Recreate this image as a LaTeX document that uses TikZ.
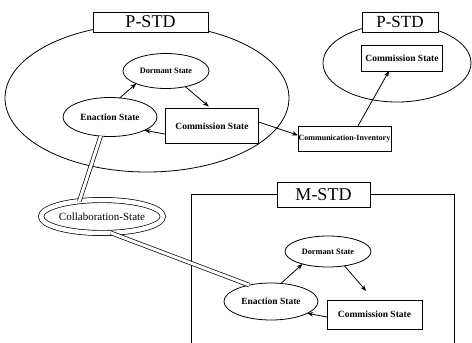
\documentclass[tikz,border=0pt]{standalone}
\usepackage{fontspec}
\setmainfont{Liberation Serif}
\usetikzlibrary{shapes.geometric,arrows.meta}
\begin{document}
\begin{tikzpicture}[x=1pt,y=-1pt,
  every node/.style={inner sep=0pt, outer sep=0pt},
  ln/.style={line width=0.8pt},
  st/.style={ellipse, draw, ln, font=\fontsize{9.5}{10}\selectfont\bfseries},
  bx/.style={rectangle, draw, ln, font=\fontsize{9.5}{10}\selectfont\bfseries},
  lbl/.style={rectangle, draw, ln, fill=white, font=\fontsize{18}{20}\selectfont},
  big/.style={draw, ln},
  arr/.style={ln, -{Stealth[length=6pt,width=4.5pt]}},
  dbl/.style={double, double distance=3pt, line width=0.7pt}
]
\useasboundingbox (0,0) rectangle (472,343);
% containers
\node[ellipse, big, minimum width=284pt, minimum height=148pt] (pe1) at (147,98) {};
\node[ellipse, big, minimum width=148pt, minimum height=78pt] (pe2) at (397,63) {};
\coordinate (mtl) at (191,194);
\coordinate (mtr) at (454,194);
\coordinate (mbl) at (191,345);
\coordinate (mbr) at (454,345);
\draw[ln] (mbl) -- (mtl) -- (mtr) -- (mbr);
% labels
\node[lbl, minimum width=115pt, minimum height=20pt] (p1) at (150.5,22) {P-STD};
\node[lbl, minimum width=76pt, minimum height=20pt, font=\fontsize{17}{19}\selectfont] (p2) at (400,22) {P-STD};
\node[lbl, minimum width=93pt, minimum height=25pt] (m) at (323.5,194.5) {M-STD};
% upper P-STD states
\node[st, minimum width=86pt, minimum height=35pt, font=\fontsize{8.3}{10}\selectfont\bfseries] (d1) at (166,71) {Dormant State};
\node[st, minimum width=94pt, minimum height=39pt] (e1) at (110,117) {Enaction State};
\node[bx, minimum width=93pt, minimum height=35pt] (c1) at (212,126) {Commission State};
% communication inventory
\node[bx, minimum width=93pt, minimum height=25pt, font=\fontsize{8}{10}\selectfont\bfseries] (ci) at (344.5,138.5) {Communication-Inventory};
\node[bx, minimum width=81pt, minimum height=26pt] (c2) at (402,58) {Commission State};
% collaboration
\node[ellipse, draw, double, double distance=4.5pt, line width=0.7pt, minimum width=110pt, minimum height=33pt, font=\fontsize{11}{12}\selectfont] (co) at (102,216.5) {Collaboration-State};
% M-STD states
\node[st, minimum width=86pt, minimum height=31pt, font=\fontsize{8.3}{10}\selectfont\bfseries] (d3) at (328,251.5) {Dormant State};
\node[st, minimum width=94pt, minimum height=37pt] (e3) at (271,301.5) {Enaction State};
\node[bx, minimum width=95pt, minimum height=29pt] (c3) at (374.5,314.5) {Commission State};
% arrows upper
\draw[arr] (e1.63) -- (d1.203);
\draw[arr, shorten >=3pt] (d1.321) -- (c1.93);
\draw[arr] (c1.190) -- (e1.339);
\draw[arr] (c1.5) -- (ci.176);
\draw[arr] (ci.43) -- (c2.225);
% arrows lower
\draw[arr] (e3.61) -- (d3.206);
\draw[arr, shorten >=12pt] (d3.319) -- (c3.92);
\draw[arr] (c3.183) -- (e3.342);
% double connectors
\draw[dbl] (e1.244) -- (co.146);
\draw[dbl] (co.298) -- (e3.143);
\end{tikzpicture}
\end{document}
